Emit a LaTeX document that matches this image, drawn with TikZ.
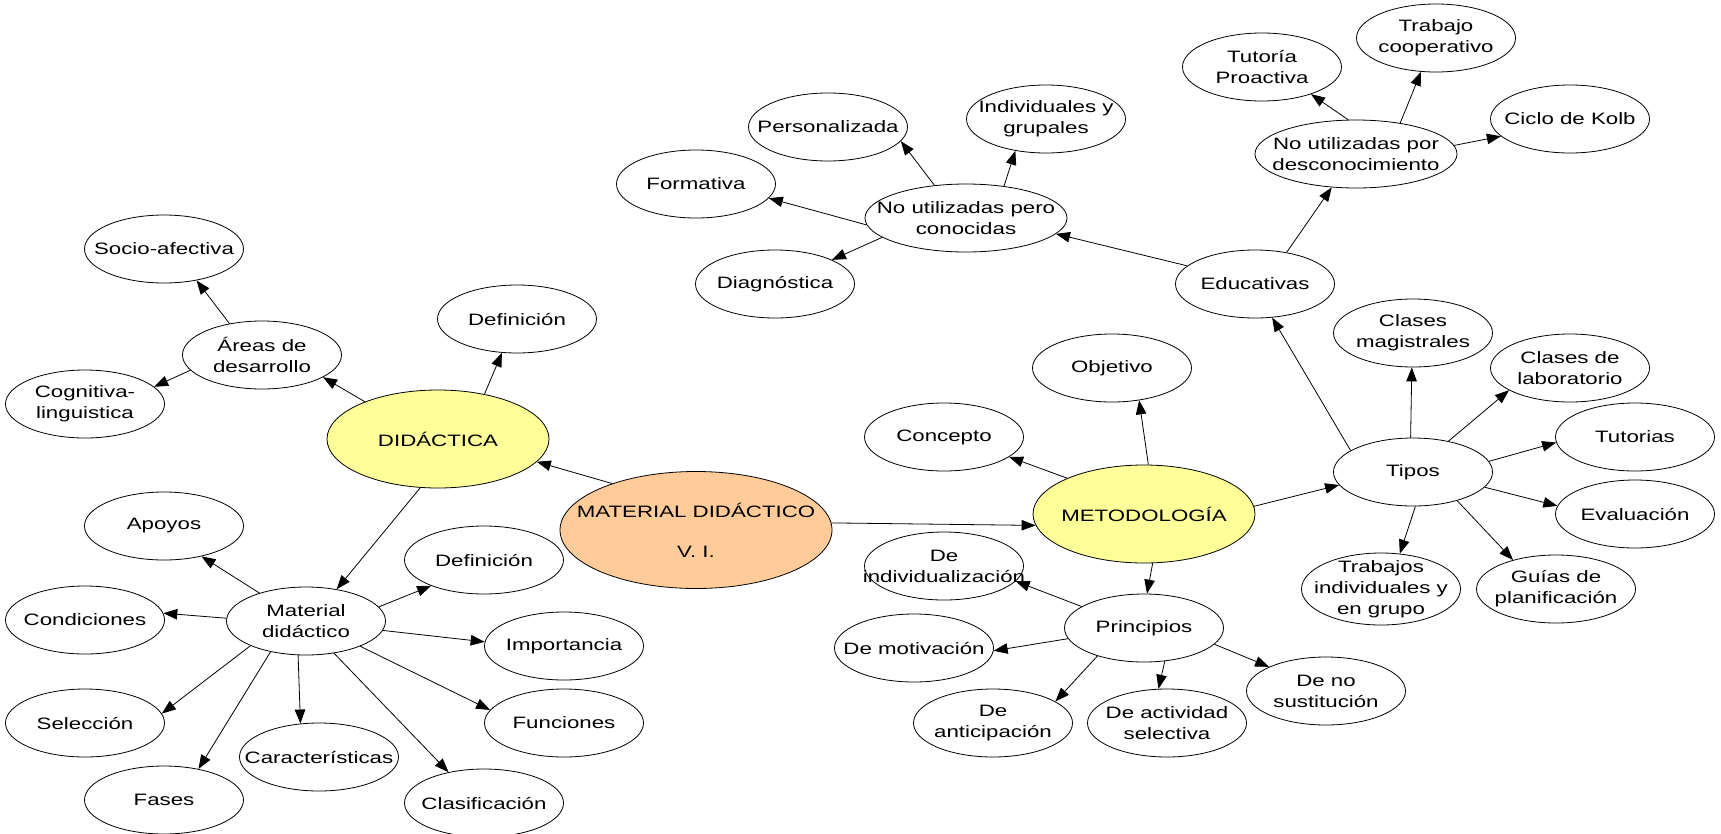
\documentclass[tikz,border=0pt]{standalone}
\usepackage{fontspec}
\setmainfont[FakeStretch=1.35]{Liberation Sans}
\usetikzlibrary{shapes.geometric,arrows.meta}
\definecolor{mdorange}{HTML}{FFCC99}
\definecolor{mdyellow}{HTML}{FFFF99}
\tikzset{
  ell/.style={ellipse, draw=black, line width=0.8pt, fill=white, minimum width=159pt, minimum height=68pt, inner sep=0pt},
  txt/.style={align=center, font=\fontsize{16.5}{21}\selectfont, inner sep=0pt},
  arr/.style={-{Triangle[length=14pt,width=10.5pt]}, line width=0.8pt},
  big/.style={minimum width=222pt, minimum height=98pt, fill=mdyellow},
  wide/.style={minimum width=202pt},
}
\newcommand\bub[4][]{\node[ell,#1,label={[txt]center:#4}] (#2) at (#3) {};}
\begin{document}
\begin{tikzpicture}[x=1pt,y=-1pt]
\useasboundingbox[fill=white] (0,0) rectangle (1721,833);
% central
\bub[minimum width=272pt,minimum height=117pt,fill=mdorange]{md}{696,530}{MATERIAL DIDÁCTICO\\[19pt]V. I.}
\bub[big]{did}{438,439}{DIDÁCTICA}
\bub[big]{met}{1144,514}{METODOLOGÍA}
% didactica side
\bub{defa}{517,319}{Definición}
\bub{areas}{262,355}{Áreas de\\desarrollo}
\bub{socio}{164,249}{Socio-afectiva}
\bub{cogn}{85,404}{Cognitiva-\\linguistica}
\bub{matd}{306,621}{Material\\didáctico}
\bub{apoyos}{164,526}{Apoyos}
\bub{cond}{85,620}{Condiciones}
\bub{sel}{85,723}{Selección}
\bub{fases}{164,800}{Fases}
\bub{car}{319,757}{Características}
\bub{clas}{484,803}{Clasificación}
\bub{func}{564,723}{Funciones}
\bub{imp}{564,646}{Importancia}
\bub{defb}{484,560}{Definición}
% metodologia side
\bub{conc}{944,437}{Concepto}
\bub{obj}{1112,368}{Objetivo}
\bub{tipos}{1413,472}{Tipos}
\bub{educ}{1255,284}{Educativas}
\bub[wide]{nupc}{966,218}{No utilizadas pero\\conocidas}
\bub{form}{696,184}{Formativa}
\bub{diag}{775,284}{Diagnóstica}
\bub{pers}{828,127}{Personalizada}
\bub{indg}{1046,119}{Individuales y\\grupales}
\bub[wide]{nupd}{1356,154}{No utilizadas por\\desconocimiento}
\bub{tutp}{1262,67}{Tutoría\\Proactiva}
\bub{coop}{1436,38}{Trabajo\\cooperativo}
\bub{kolb}{1570,119}{Ciclo de Kolb}
\bub{clmag}{1413,333}{Clases\\magistrales}
\bub{cllab}{1570,368}{Clases de\\laboratorio}
\bub{tut}{1635,437}{Tutorias}
\bub{eval}{1635,514}{Evaluación}
\bub{guias}{1556,589}{Guías de\\planificación}
\bub[minimum height=72pt]{trab}{1381,589}{\fontsize{16.5}{19}\selectfont Trabajos\\individuales y\\en grupo}
\bub{princ}{1144,628}{Principios}
\bub{pind}{944,566}{De\\individualización}
\bub{pmot}{914,648}{De motivación}
\bub{pant}{993,723}{De\\anticipación}
\bub{pact}{1167,723}{De actividad\\selectiva}
\bub{pnos}{1326,691}{De no\\sustitución}
% connectors
\draw[arr] (md.151) -- (did.-13);
\draw[arr] (md.3) -- (met.186);
\draw[arr] (did.44) -- (defa.-114);
\draw[arr] (did.153) -- (areas.-20);
\draw[arr] (areas.136) -- (socio.-44);
\draw[arr] (areas.192) -- (cogn.14);
\draw[arr] (did.-110) -- (matd.46);
\draw[arr] (matd.149) -- (apoyos.-39);
\draw[arr] (matd.178) -- (cond.5);
\draw[arr] (matd.204) -- (sel.7);
\draw[arr] (matd.221) -- (fases.42);
\draw[arr] (matd.-103) -- (car.119);
\draw[arr] (matd.-49) -- (clas.139);
\draw[arr] (matd.-25) -- (func.170);
\draw[arr] (matd.-7) -- (imp.177);
\draw[arr] (matd.11) -- (defb.206);
\draw[arr] (met.155) -- (conc.-17);
\draw[arr] (met.85) -- (obj.-50);
\draw[arr] (met.4) -- (tipos.190);
\draw[arr] (met.-80) -- (princ.85);
\draw[arr] (tipos.161) -- (educ.-63);
\draw[arr] (tipos.94) -- (clmag.-92);
\draw[arr] (tipos.41) -- (cllab.200);
\draw[arr] (tipos.8) -- (tut.184);
\draw[arr] (tipos.-12) -- (eval.174);
\draw[arr] (tipos.-33) -- (guias.146);
\draw[arr] (tipos.-86) -- (trab.62);
\draw[arr] (educ.165) -- (nupc.-10);
\draw[arr] (educ.45) -- (nupd.-126);
\draw[arr] (nupc.184) -- (form.-11);
\draw[arr] (nupc.193) -- (diag.23);
\draw[arr] (nupc.134) -- (pers.-11);
\draw[arr] (nupc.40) -- (indg.-134);
\draw[arr] (nupd.103) -- (tutp.-29);
\draw[arr] (nupd.35) -- (coop.-114);
\draw[arr] (nupd.5) -- (kolb.194);
\draw[arr] (princ.161) -- (pind.-12);
\draw[arr] (princ.188) -- (pmot.-2);
\draw[arr] (princ.211) -- (pant.19);
\draw[arr] (princ.-58) -- (pact.104);
\draw[arr] (princ.-13) -- (pnos.157);
\end{tikzpicture}
\end{document}
